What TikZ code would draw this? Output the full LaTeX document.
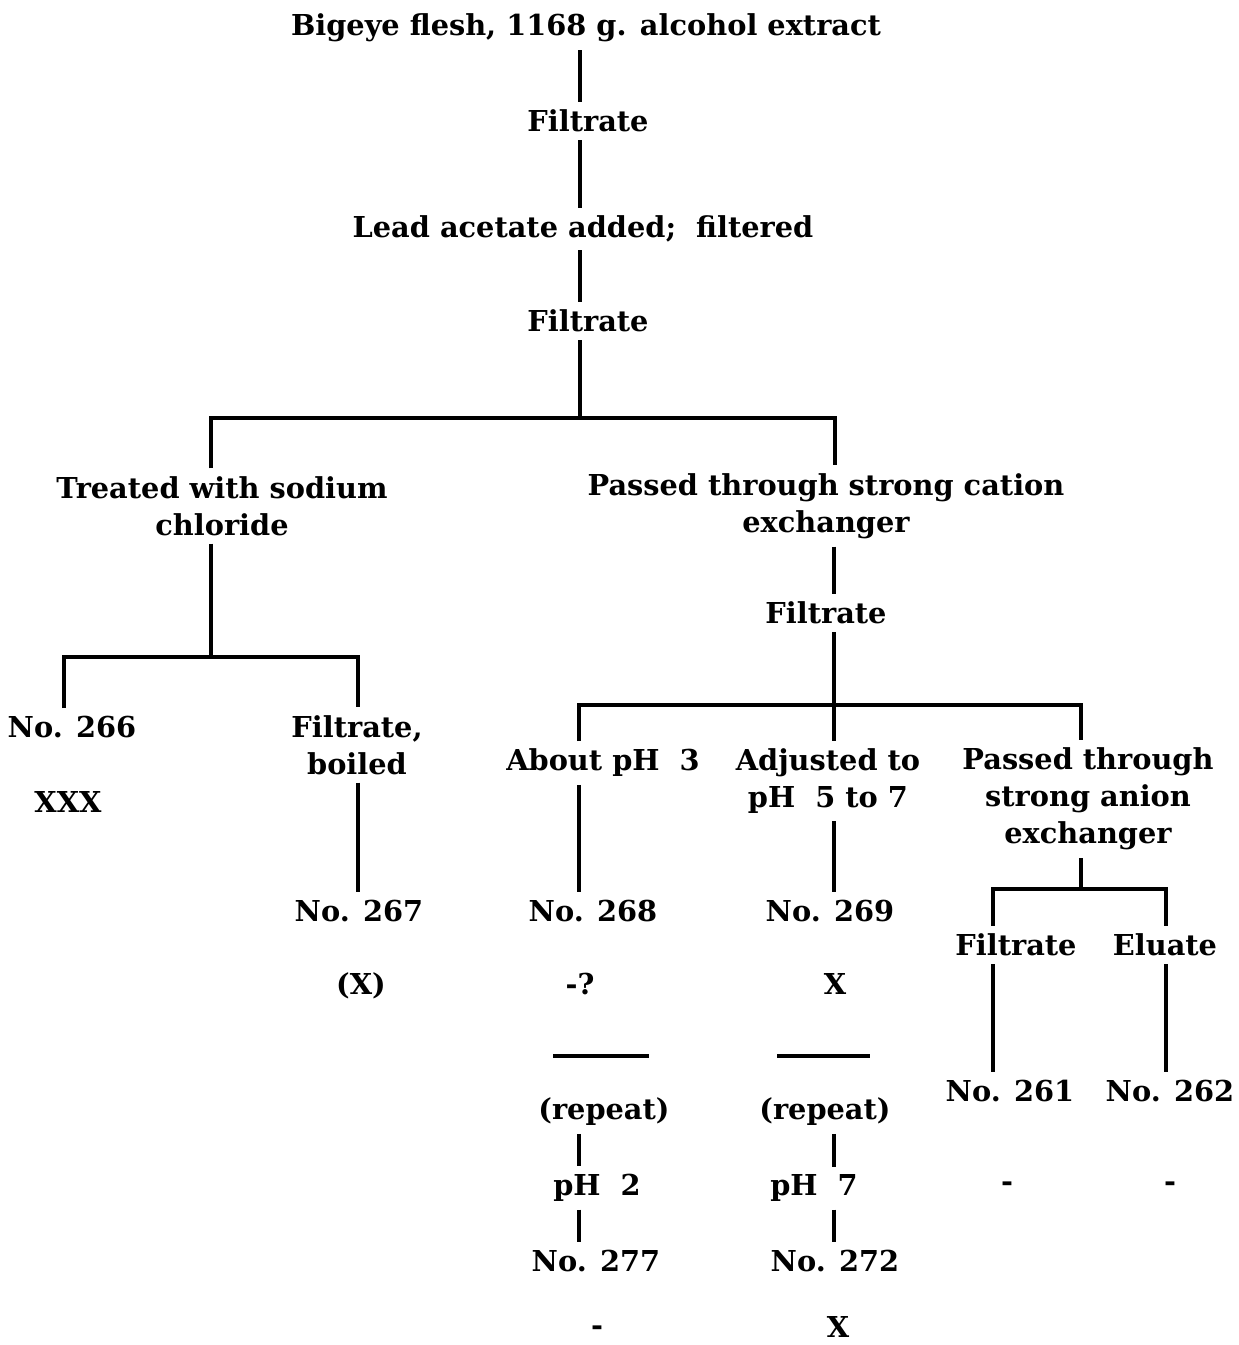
\documentclass[tikz,border=0pt]{standalone}
\usepackage{fontspec}
\setmainfont{DejaVu Serif}
\begin{document}
\begin{tikzpicture}[x=0.5pt,y=-0.5pt,
  lbl/.style={font=\bfseries\fontsize{14.4}{18.5}\selectfont, inner sep=0pt, outer sep=4pt, align=center},
  ln/.style={line width=1.7pt},
  bar/.style={line width=2.2pt}]
\useasboundingbox (0,0) rectangle (1238,1345);

% column positions of the vertical connectors
\coordinate (cA) at (580,0);
\coordinate (cL) at (211,0);
\coordinate (cR) at (835,0);
\coordinate (cLL) at (64,0);
\coordinate (cLR) at (358,0);
\coordinate (c3) at (579,0);
\coordinate (c5) at (834,0);
\coordinate (cAn) at (1081,0);
\coordinate (cF) at (993,0);
\coordinate (cE) at (1166,0);

% text
\node[lbl] (t0) at (586,28) {Bigeye flesh, 1168 g. alcohol extract};
\node[lbl] (f0) at (588,121) {Filtrate};
\node[lbl] (la) at (583,229) {Lead acetate added;\ \ filtered};
\node[lbl] (f1) at (588,321) {Filtrate};
\node[lbl] (na) at (222,506) {Treated with sodium\\chloride};
\node[lbl] (pc) at (826,506) {Passed through strong cation\\exchanger};
\node[lbl] (f2) at (826,613) {Filtrate};
\node[lbl] (n266) at (72,727) {No. 266};
\node[lbl] (xxx) at (68,802) {XXX};
\node[lbl] (fb) at (357,745) {Filtrate,\\boiled};
\node[lbl] (n267) at (359,911) {No. 267};
\node[lbl] (r267) at (361,986) {(X)};
\node[lbl] (ph3) at (603,763) {About pH\ \ 3};
\node[lbl] (adj) at (828,781) {Adjusted to\\pH\ \ 5 to 7};
\node[lbl] (pa) at (1088,799) {Passed through\\strong anion\\exchanger};
\node[lbl] (n268) at (593,911) {No. 268};
\node[lbl] (n269) at (830,911) {No. 269};
\node[lbl] (r268) at (580,984) {-?};
\node[lbl] (r269) at (835,984) {X};
\node[lbl] (rp1) at (604,1112) {(repeat)};
\node[lbl] (rp2) at (825,1112) {(repeat)};
\node[lbl] (ph2) at (597,1188) {pH\ \ 2};
\node[lbl] (ph7) at (814,1188) {pH\ \ 7};
\node[lbl] (n277) at (596,1261) {No. 277};
\node[lbl] (n272) at (835,1261) {No. 272};
\node[lbl] (r277) at (597,1331) {-};
\node[lbl] (r272) at (838,1327) {X};
\node[lbl] (fl) at (1016,945) {Filtrate};
\node[lbl] (el) at (1165,945) {Eluate};
\node[lbl] (n261) at (1010,1091) {No. 261};
\node[lbl] (n262) at (1170,1091) {No. 262};
\node[lbl] (r261) at (1007,1187) {-};
\node[lbl] (r262) at (1170,1187) {-};

% branch points
\coordinate (b1) at (580,418);
\coordinate (b2) at (211,657);
\coordinate (b3) at (834,705);
\coordinate (b4) at (1081,889);

% main stem
\draw[ln] (t0.south -| cA) -- (f0.north -| cA);
\draw[ln] (f0.south -| cA) -- (la.north -| cA);
\draw[ln] (la.south -| cA) -- (f1.north -| cA);
\draw[ln] (f1.south -| cA) -- (b1);
\draw[bar] (na.north -| cL) |- (b1) -| (pc.north -| cR);

% sodium chloride branch
\draw[ln] (na.south -| cL) -- (b2);
\draw[bar] (n266.north -| cLL) |- (b2) -| (fb.north -| cLR);
\draw[ln] (fb.south -| cLR) -- (n267.north -| cLR);

% cation exchanger branch
\draw[ln] (pc.south -| c5) -- (f2.north -| c5);
\draw[ln] (f2.south -| c5) -- (b3);
\draw[bar] (ph3.north -| c3) |- (b3) -| (pa.north -| cAn);
\draw[ln] (b3) -- (adj.north -| c5);
\draw[ln] (ph3.south -| c3) -- (n268.north -| c3);
\draw[ln] (adj.south -| c5) -- (n269.north -| c5);

% repeat runs
\draw[bar] (553,1056) -- (649,1056);
\draw[bar] (777,1056) -- (870,1056);
\draw[ln] (rp1.south -| c3) -- (ph2.north -| c3);
\draw[ln] (ph2.south -| c3) -- (n277.north -| c3);
\draw[ln] (rp2.south -| c5) -- (ph7.north -| c5);
\draw[ln] (ph7.south -| c5) -- (n272.north -| c5);

% anion exchanger branch
\draw[ln] (pa.south -| cAn) -- (b4);
\draw[bar] (fl.north -| cF) |- (b4) -| (el.north -| cE);
\draw[ln] (fl.south -| cF) -- (n261.north -| cF);
\draw[ln] (el.south -| cE) -- (n262.north -| cE);
\end{tikzpicture}
\end{document}
